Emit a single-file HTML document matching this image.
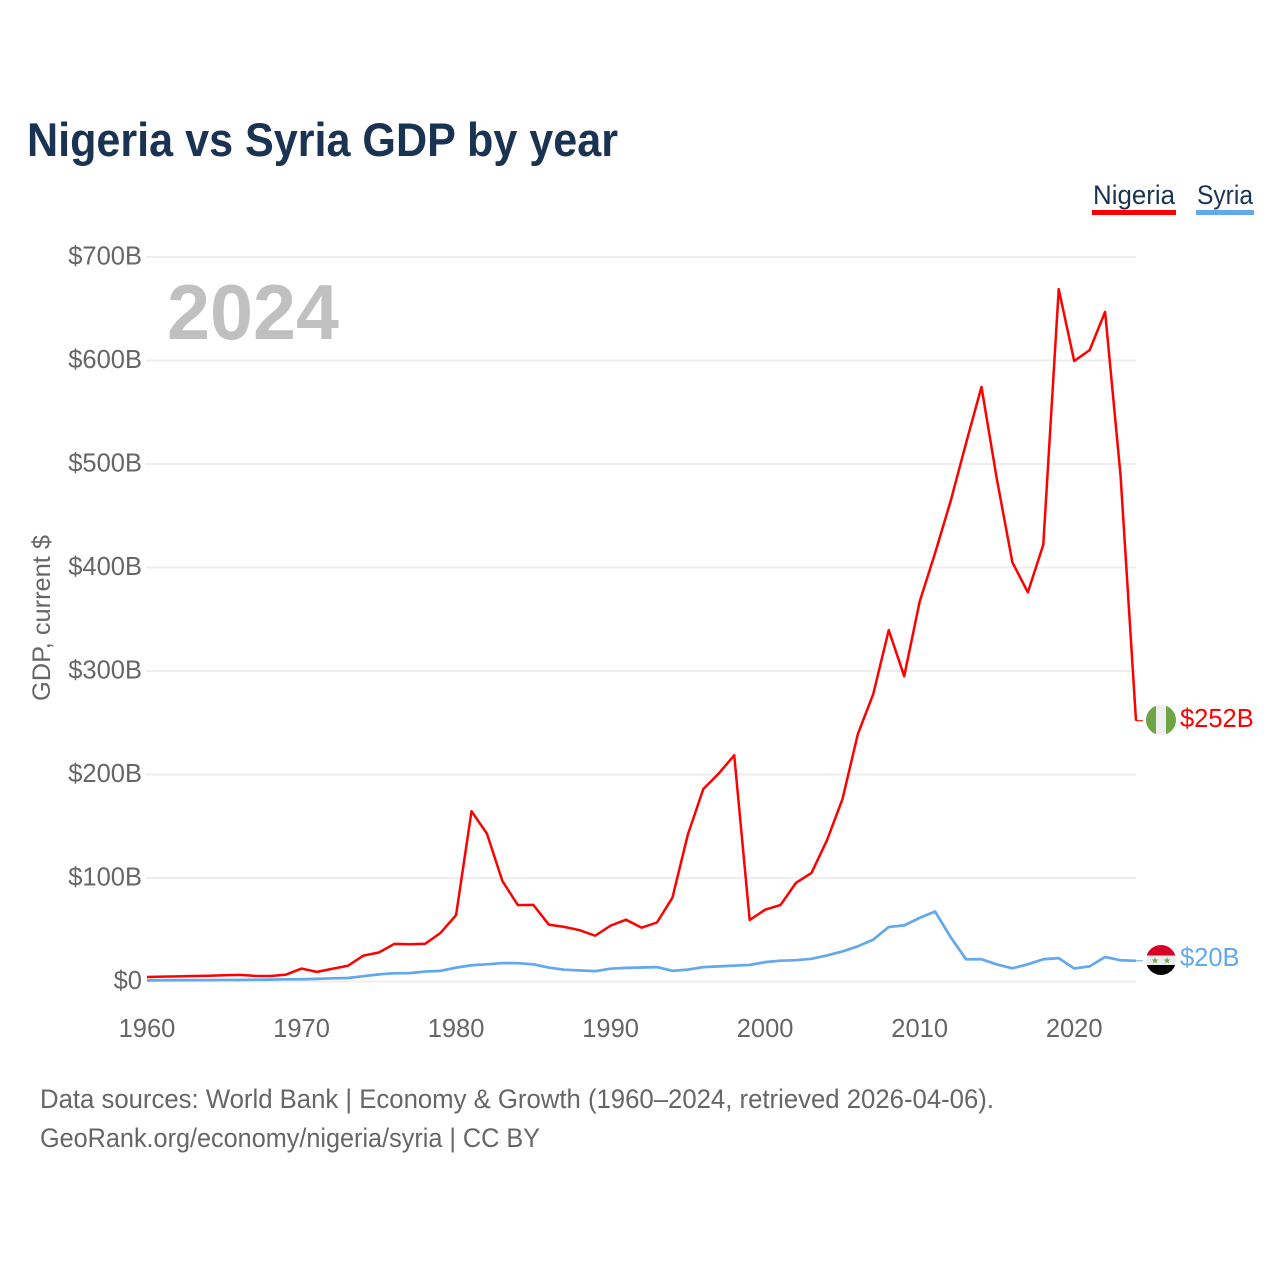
<!DOCTYPE html>
<html lang="en">
<head>
<meta charset="utf-8">
<title>Nigeria vs Syria GDP by year</title>
<style>
html,body{margin:0;padding:0;background:#fff;}
svg{display:block;font-family:"Liberation Sans",sans-serif;}
</style>
</head>
<body>
<svg id="chart" xmlns="http://www.w3.org/2000/svg" width="1280" height="1280" viewBox="0 0 1280 1280">
  <rect width="1280" height="1280" fill="#fff"/>
  <text x="27" y="156" font-size="47" font-weight="700" fill="#1a3352" textLength="591" lengthAdjust="spacingAndGlyphs">Nigeria vs Syria GDP by year</text>

  <g>
    <g>
      <text x="1093" y="204" font-size="27" fill="#1a3352" textLength="82" lengthAdjust="spacingAndGlyphs">Nigeria</text>
      <rect x="1092" y="210" width="84" height="5" fill="#ff0000"/>
    </g>
    <g>
      <text x="1197" y="204" font-size="27" fill="#1a3352" textLength="56" lengthAdjust="spacingAndGlyphs">Syria</text>
      <rect x="1196" y="210" width="58" height="5" fill="#62a8ee"/>
    </g>
  </g>

  <g id="grid"></g>
  <g id="y-ticks"></g>
  <g id="x-ticks"></g>

  <text transform="translate(50,618) rotate(-90)" text-anchor="middle" font-size="25" fill="#666" textLength="166" lengthAdjust="spacingAndGlyphs">GDP, current $</text>
  <text x="167" y="339" font-size="78" font-weight="700" fill="#c0c0c0" textLength="172" lengthAdjust="spacingAndGlyphs">2024</text>

  <g id="series"></g>

  <defs>
    <clipPath id="clip-nigeria"><circle cx="1161" cy="720" r="15"/></clipPath>
    <clipPath id="clip-syria"><circle cx="1161" cy="960" r="15"/></clipPath>
  </defs>
  <g clip-path="url(#clip-nigeria)">
    <rect x="1146" y="705" width="30" height="30" fill="#eeeeee"/>
    <rect x="1146" y="705" width="10" height="30" fill="#6da544"/>
    <rect x="1166" y="705" width="10" height="30" fill="#6da544"/>
  </g>
  <g clip-path="url(#clip-syria)">
    <rect x="1146" y="945" width="30" height="10.5" fill="#d80027"/>
    <rect x="1146" y="955.5" width="30" height="9.5" fill="#eeeeee"/>
    <rect x="1146" y="965" width="30" height="10" fill="#000000"/>
    <text x="1155" y="963.5" font-size="9" text-anchor="middle" fill="#6da544">★</text>
    <text x="1167" y="963.5" font-size="9" text-anchor="middle" fill="#6da544">★</text>
  </g>

  <text id="label-nigeria" x="1180" y="727" font-size="25.5" fill="#ff0000"></text>
  <text id="label-syria" x="1180" y="966" font-size="25.5" fill="#62a8ee"></text>

  <text x="40" y="1108" font-size="27" fill="#666" textLength="954" lengthAdjust="spacingAndGlyphs">Data sources: World Bank | Economy &amp; Growth (1960–2024, retrieved 2026-04-06).</text>
  <text x="40" y="1147" font-size="27" fill="#666" textLength="500" lengthAdjust="spacingAndGlyphs">GeoRank.org/economy/nigeria/syria | CC BY</text>
</svg>
<script>
const startYear = 1960;
const yTickValues = [0, 100, 200, 300, 400, 500, 600, 700];
const yTickLabels = ["$0", "$100B", "$200B", "$300B", "$400B", "$500B", "$600B", "$700B"];
const xTickYears = [1960, 1970, 1980, 1990, 2000, 2010, 2020];
const nigeriaGdp = [4.4,4.7,5,5.3,5.6,6,6.4,5.4,5.3,6.7,12.5,9.3,12.3,15.2,25,28,36.3,36,36.5,47,64.2,164.5,142.8,97,73.8,74,55,52.8,49.6,44.2,54,59.7,52,57,81,142,186,201,218.5,59.4,69.4,74,95.4,104.9,136.4,176,239,278,339.5,295,367,414,464,520,574.5,485,405,376,422,669,599.5,610,647,489,252];
const syriaGdp = [1.1,1.2,1.3,1.3,1.4,1.5,1.5,1.7,1.8,2.1,2.2,2.5,3.1,3.4,5.1,6.9,8,8.1,9.6,10.3,13.4,15.7,16.6,17.8,17.7,16.6,13.5,11.4,10.7,10,12.4,13.2,13.5,13.9,10.3,11.5,13.9,14.6,15.3,16,18.7,20.1,20.6,21.9,25.2,29,34,40.5,52.7,54.2,61.5,67.6,43,21.5,21.5,16.5,12.7,16.6,21.5,22.6,12.6,14.6,23.7,20.5,20];
const nigeriaLabel = "$252B";
const syriaLabel = "$20B";

const NS = "http://www.w3.org/2000/svg";
const xScale = year => 147 + (year - 1960) * (1136 - 147) / 64;
const yScale = value => 981.5 - value * 1.035;

function make(tag, attrs, parent, text) {
  const el = document.createElementNS(NS, tag);
  for (const k in attrs) el.setAttribute(k, attrs[k]);
  if (text !== undefined) el.textContent = text;
  parent.appendChild(el);
  return el;
}

const gridGroup = document.getElementById("grid");
const yTickGroup = document.getElementById("y-ticks");
const xTickGroup = document.getElementById("x-ticks");
const seriesGroup = document.getElementById("series");

yTickValues.forEach((v, i) => {
  const y = yScale(v);
  const line = make("line", {x1: 146, x2: 1136, y1: y, y2: y, stroke: "#eeeeee", "stroke-width": 2}, gridGroup);
  
  
  const label = make("text", {x: 142, y: y + 7.5, "text-anchor": "end", "font-size": 25.5, fill: "#666"}, yTickGroup, yTickLabels[i]);
  
  
});

xTickYears.forEach(year => {
  const label = make("text", {x: xScale(year), y: 1037, "text-anchor": "middle", "font-size": 25.5, fill: "#666"}, xTickGroup, String(year));
  
  
});

function linePath(values) {
  return values.map((v, i) => (i ? "L" : "M") + xScale(startYear + i).toFixed(2) + " " + yScale(v).toFixed(2)).join(" ");
}

const lastIndex = nigeriaGdp.length - 1;

const nigeriaConnector = make("line", {x1: xScale(startYear + lastIndex), x2: 1143, y1: yScale(nigeriaGdp[lastIndex]), y2: yScale(nigeriaGdp[lastIndex]), stroke: "#ff0000", "stroke-width": 1}, seriesGroup);



const syriaConnector = make("line", {x1: xScale(startYear + lastIndex), x2: 1143, y1: yScale(syriaGdp[lastIndex]), y2: yScale(syriaGdp[lastIndex]), stroke: "#62a8ee", "stroke-width": 1}, seriesGroup);



const syriaLine = make("path", {d: linePath(syriaGdp), fill: "none", stroke: "#62a8ee", "stroke-width": 2.7, "stroke-linejoin": "round"}, seriesGroup);



const nigeriaLine = make("path", {d: linePath(nigeriaGdp), fill: "none", stroke: "#ff0000", "stroke-width": 2.5, "stroke-linejoin": "round"}, seriesGroup);



document.getElementById("label-nigeria").textContent = nigeriaLabel;
document.getElementById("label-syria").textContent = syriaLabel;
</script>
</body>
</html>
